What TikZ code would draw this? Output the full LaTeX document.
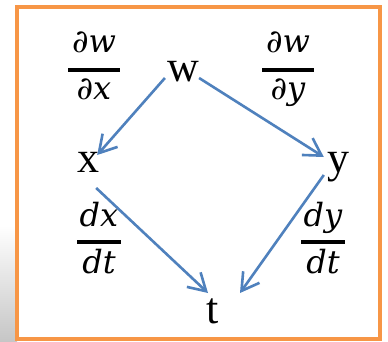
\documentclass[tikz,border=0pt]{standalone}
\usepackage{fontspec}
\setmainfont{Liberation Serif}
\newfontfamily\fracfont{DejaVu Serif}
\usetikzlibrary{arrows.meta}
\definecolor{frameorange}{HTML}{F79646}
\definecolor{arrowblue}{HTML}{4F81BD}
\begin{document}
\begin{tikzpicture}[x=1pt,y=-1pt,
  var/.style={font=\fontsize{44}{44}\selectfont, inner sep=0pt, anchor=base},
  num/.style={font=\fracfont\itshape\fontsize{32}{32}\selectfont, inner sep=0pt, anchor=base},
  fracbar/.style={line width=4pt, black},
  conn/.style={arrowblue, line width=2.6pt, -{Straight Barb[length=17pt,width=20pt,line width=2.6pt]}}
]
\useasboundingbox (0,0) rectangle (388,342);
\shade[top color=white, bottom color=gray!45] (0,225) rectangle (17,342);
\draw[frameorange, line width=4pt, fill=white] (17,7) rectangle (380,339);
% variables
\node[var] (w) at (183,82) {w};
\node[var] (x) at (88,172) {x};
\node[var] (y) at (338,172) {y};
\node[var] (t) at (213,323) {t};
% fractions
\node[num] (n1) at (94,53) {∂w};
\node[num] (d1) at (94,100) {∂x};
\draw[fracbar] (68,70) -- (120,70);
\node[num] (n2) at (288,53) {∂w};
\node[num] (d2) at (288,100) {∂y};
\draw[fracbar] (262,70) -- (314,70);
\node[num] (n3) at (99,226) {dx};
\node[num] (d3) at (99,273) {dt};
\draw[fracbar] (77,242) -- (121,242);
\node[num] (n4) at (323,226) {dy};
\node[num] (d4) at (323,273) {dt};
\draw[fracbar] (301,242) -- (345,242);
% connectors
\draw[conn] ([shift={(-2,-4)}]w.base west) -- ([shift={(-2,-17)}]x.base east);
\draw[conn] ([shift={(0,-4)}]w.base east) -- ([shift={(-3,-15)}]y.base west);
\draw[conn] ([shift={(-3,16)}]x.base east) -- ([shift={(-5,-30)}]t.base);
\draw[conn] ([shift={(-3,3)}]y.base west) -- ([shift={(27,-30)}]t.base);
\end{tikzpicture}
\end{document}
